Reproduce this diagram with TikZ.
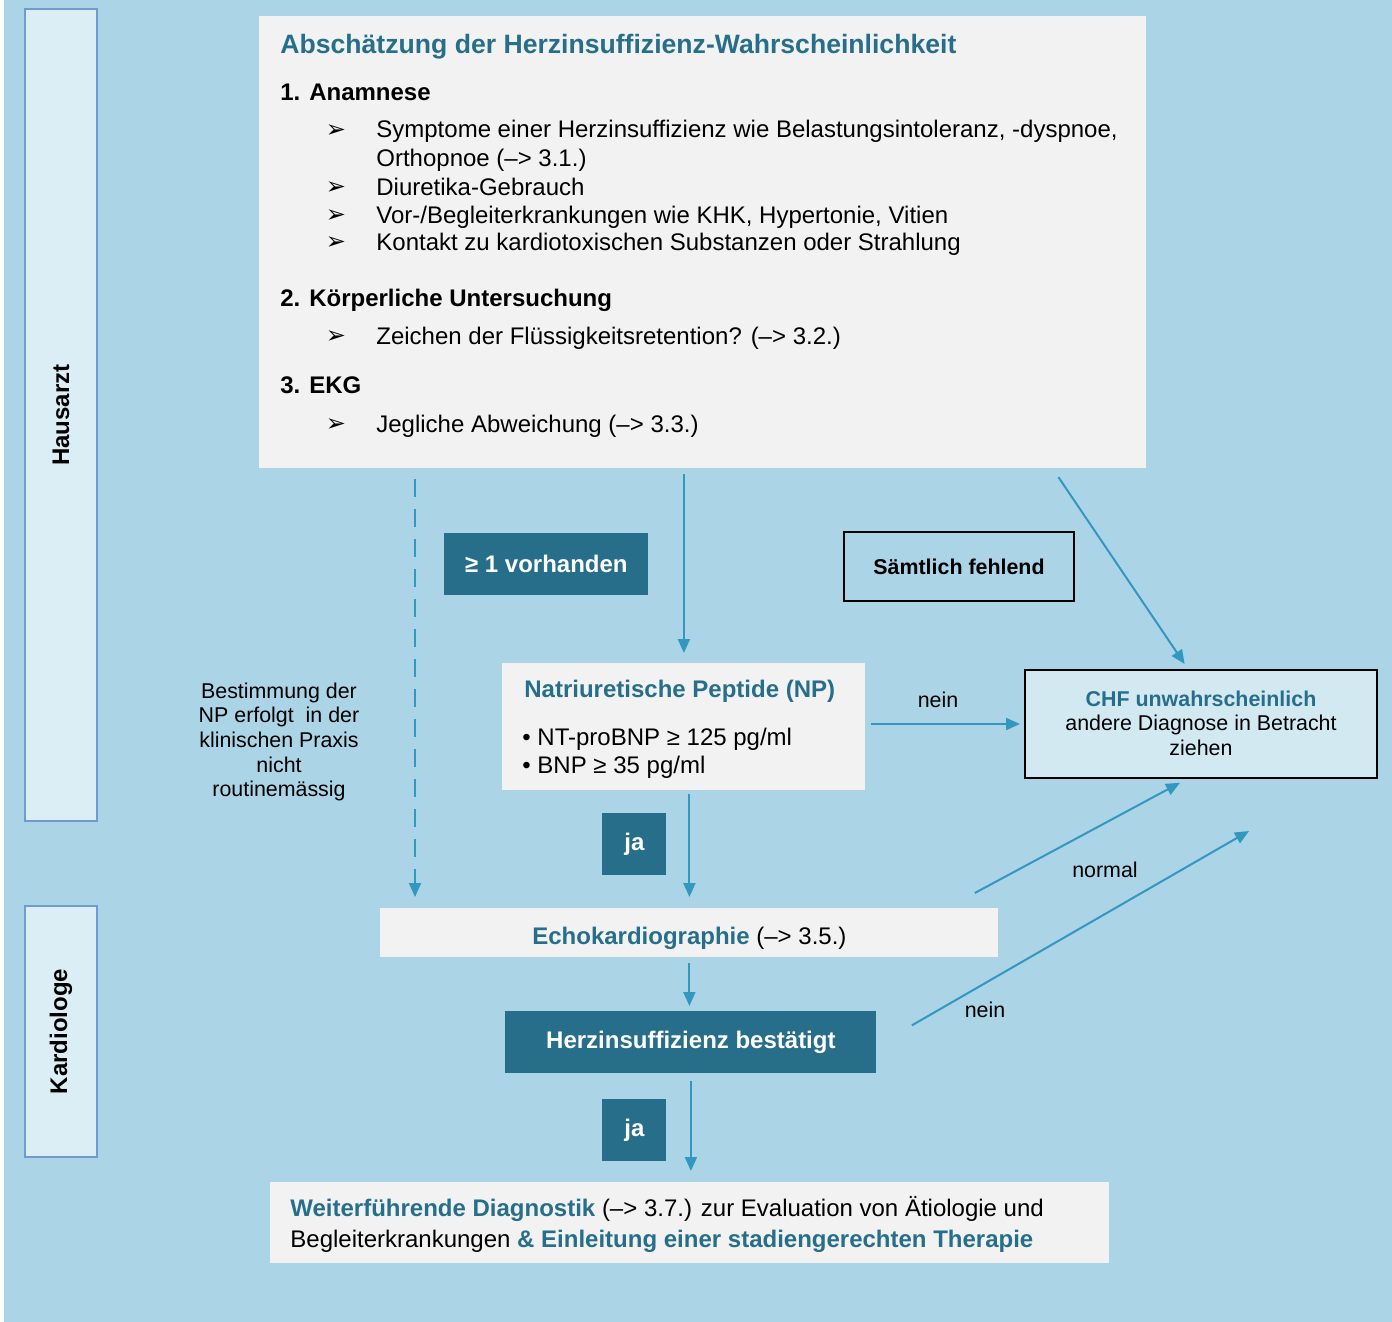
\documentclass[tikz,border=0pt]{standalone}
\usepackage{fontspec}
\setmainfont{Liberation Sans}
\newfontfamily\arrowfont{DejaVu Sans}
\usetikzlibrary{arrows.meta,positioning,calc}

\definecolor{hintergrund}{HTML}{ABD4E6}
\definecolor{boxgrau}{HTML}{F2F2F2}
\definecolor{petrol}{HTML}{276E8A}
\definecolor{pfeilblau}{HTML}{3398C0}
\definecolor{spurfill}{HTML}{DCEEF5}
\definecolor{spurrand}{HTML}{6F9BD1}
\definecolor{chffill}{HTML}{D3E9F2}

\newcommand{\pfeil}{{\arrowfont\fontsize{12}{12}\selectfont ➢}}

\tikzset{
  grosstext/.style={font=\fontsize{12}{14}\selectfont},
  grossfett/.style={font=\fontsize{12}{14}\selectfont\bfseries},
  kleintext/.style={font=\fontsize{10.7}{12.3}\selectfont},
  zeile/.style={anchor=west, grosstext, text height=9pt, text depth=2pt},
  graubox/.style={fill=boxgrau, anchor=north west},
  petrolbox/.style={fill=petrol, text=white, anchor=north west, grossfett},
  spur/.style={fill=spurfill, draw=spurrand, line width=1pt, anchor=north west, minimum width=36pt},
  fluss/.style={draw=pfeilblau, line width=1pt, -{Triangle[length=7pt,width=6pt]}},
}

\begin{document}
\begin{tikzpicture}[x=0.5pt,y=-0.5pt]
\tikzstyle{every node}+=[inner sep=0pt]
\useasboundingbox (0,0) rectangle (1392,1322);
\fill[hintergrund] (4,0) rectangle (1392,1322);

% Spuren links
\node[spur, minimum height=406pt] (hausarzt) at (24,8) {};
\node[rotate=90, grossfett] (lblhaus) at (hausarzt.center) {Hausarzt};
\node[spur, minimum height=125.5pt] (kardiologe) at (24,905) {};
\node[rotate=90, grossfett] (lblkard) at (kardiologe.center) {Kardiologe};

% Abschaetzung
\node[graubox, minimum width=443.5pt, minimum height=226pt] (abschaetzung) at (259,16) {};
\node[anchor=west, font=\fontsize{13.3}{15}\selectfont\bfseries, text=petrol, text height=10pt, text depth=2pt] (titel) at (280,46) {Abschätzung der Herzinsuffizienz-Wahrscheinlichkeit};
\node[zeile, grossfett] (anamnese) at (280,94) {1. Anamnese};
\node[anchor=center] (p1) at (336,131) {\pfeil};
\node[zeile] (a1) at (376,131) {Symptome einer Herzinsuffizienz wie Belastungsintoleranz, -dyspnoe,};
\node[zeile] (a1b) at (376,160) {Orthopnoe (–> 3.1.)};
\node[anchor=center] (p2) at (336,188) {\pfeil};
\node[zeile] (a2) at (376,188) {Diuretika-Gebrauch};
\node[anchor=center] (p3) at (336,216) {\pfeil};
\node[zeile] (a3) at (376,216) {Vor-/Begleiterkrankungen wie KHK, Hypertonie, Vitien};
\node[anchor=center] (p4) at (336,243) {\pfeil};
\node[zeile] (a4) at (376,243) {Kontakt zu kardiotoxischen Substanzen oder Strahlung};
\node[zeile, grossfett] (untersuchung) at (280,299) {2. Körperliche Untersuchung};
\node[anchor=center] (p5) at (336,337) {\pfeil};
\node[zeile] (u1) at (376,337) {Zeichen der Flüssigkeitsretention? (–> 3.2.)};
\node[zeile, grossfett] (ekg) at (280,386) {3. EKG};
\node[anchor=center] (p6) at (336,425) {\pfeil};
\node[zeile] (e1) at (376,425) {Jegliche Abweichung (–> 3.3.)};

% Entscheidungen
\node[petrolbox, minimum width=102pt, minimum height=31pt] (vorhanden) at (444,533) {≥ 1 vorhanden};
\node[draw=black, line width=1pt, anchor=north west, minimum width=115pt, minimum height=34.5pt, font=\fontsize{10.7}{12.3}\selectfont\bfseries] (fehlend) at (843,531) {Sämtlich fehlend};

% NP
\node[graubox, minimum width=181.5pt, minimum height=63.5pt] (np) at (502,663) {};
\node[zeile, grossfett, text=petrol] (nptitel) at (524,690) {Natriuretische Peptide (NP)};
\node[zeile] (np1) at (522,738) {• NT-proBNP ≥ 125 pg/ml};
\node[zeile] (np2) at (522,766) {• BNP ≥ 35 pg/ml};

% CHF
\node[fill=chffill, draw=black, line width=1pt, anchor=north west, minimum width=176pt, minimum height=54pt] (chf) at (1024,669) {};
\node[kleintext, align=center] (chftext) at ($(chf.center)+(0,-1)$) {{\bfseries\color{petrol}CHF unwahrscheinlich}\\andere Diagnose in Betracht\\ziehen};

\node[kleintext, align=center] (hinweis) at (279,742) {Bestimmung der\\NP erfolgt \ in der\\klinischen Praxis\\nicht\\routinemässig};

\node[petrolbox, minimum width=32pt, minimum height=31pt] (ja1) at (602,813) {ja};

% Echo
\node[graubox, minimum width=309pt, minimum height=24.5pt, grosstext, text height=12pt, text depth=0pt] (echo) at (380,908) {{\bfseries\color{petrol}Echokardiographie} (–> 3.5.)};
\node[petrolbox, minimum width=185.5pt, minimum height=31pt] (bestaetigt) at (505,1011) {Herzinsuffizienz bestätigt};
\node[petrolbox, minimum width=32pt, minimum height=31pt] (ja2) at (602,1099) {ja};

% Weiterfuehrend
\node[graubox, minimum width=419.5pt, minimum height=40.5pt] (weiter) at (270,1182) {};
\node[anchor=west, align=left, font=\fontsize{12}{15.5}\selectfont] (weitertext) at (290,1224) {{\bfseries\color{petrol}Weiterführende Diagnostik} (–> 3.7.) zur Evaluation von Ätiologie und\\Begleiterkrankungen {\bfseries\color{petrol}\& Einleitung einer stadiengerechten Therapie}};

% Pfeile
\draw[fluss, dashed, dash pattern=on 9pt off 6pt, shorten <=5pt, shorten >=5.5pt] ($(abschaetzung.south west)+(156,0)$) -- ($(echo.north west)+(35,0)$);
\draw[fluss, shorten <=2.5pt, shorten >=5pt] (abschaetzung.south -| np.north) -- (np.north);
\draw[fluss, shorten <=5pt, shorten >=3pt] ($(abschaetzung.south east)+(-94,0)$) -- ($(chf.north)+(-13,0)$);
\draw[fluss, shorten <=2.5pt, shorten >=2pt] (np.east |- chf.west) -- (chf.west);
\node[kleintext] (nein1) at (938,700) {nein};
\draw[fluss, shorten <=1.5pt, shorten >=5.5pt] (np.south -| echo.north) -- (echo.north);
\draw[fluss, shorten <=2.5pt, shorten >=2.5pt] (echo.south) -- (bestaetigt.north -| echo.south);
\draw[fluss, shorten <=3.5pt, shorten >=5.5pt] (bestaetigt.south) -- (weiter.north -| bestaetigt.south);
\coordinate (normalstart) at ($(echo.north east)+(-24,-15)$);
\draw[fluss, shorten >=4pt] (normalstart) -- ($(chf.south)+(-14,0)$);
\node[kleintext] (lblnormal) at (1105,870) {normal};
\coordinate (neinstart) at ($(bestaetigt.east)+(35,-17)$);
\coordinate (neinende) at ($(chf.south east)+(-129,52)$);
\draw[fluss] (neinstart) -- (neinende);
\node[kleintext] (nein2) at (985,1010) {nein};
\end{tikzpicture}
\end{document}
